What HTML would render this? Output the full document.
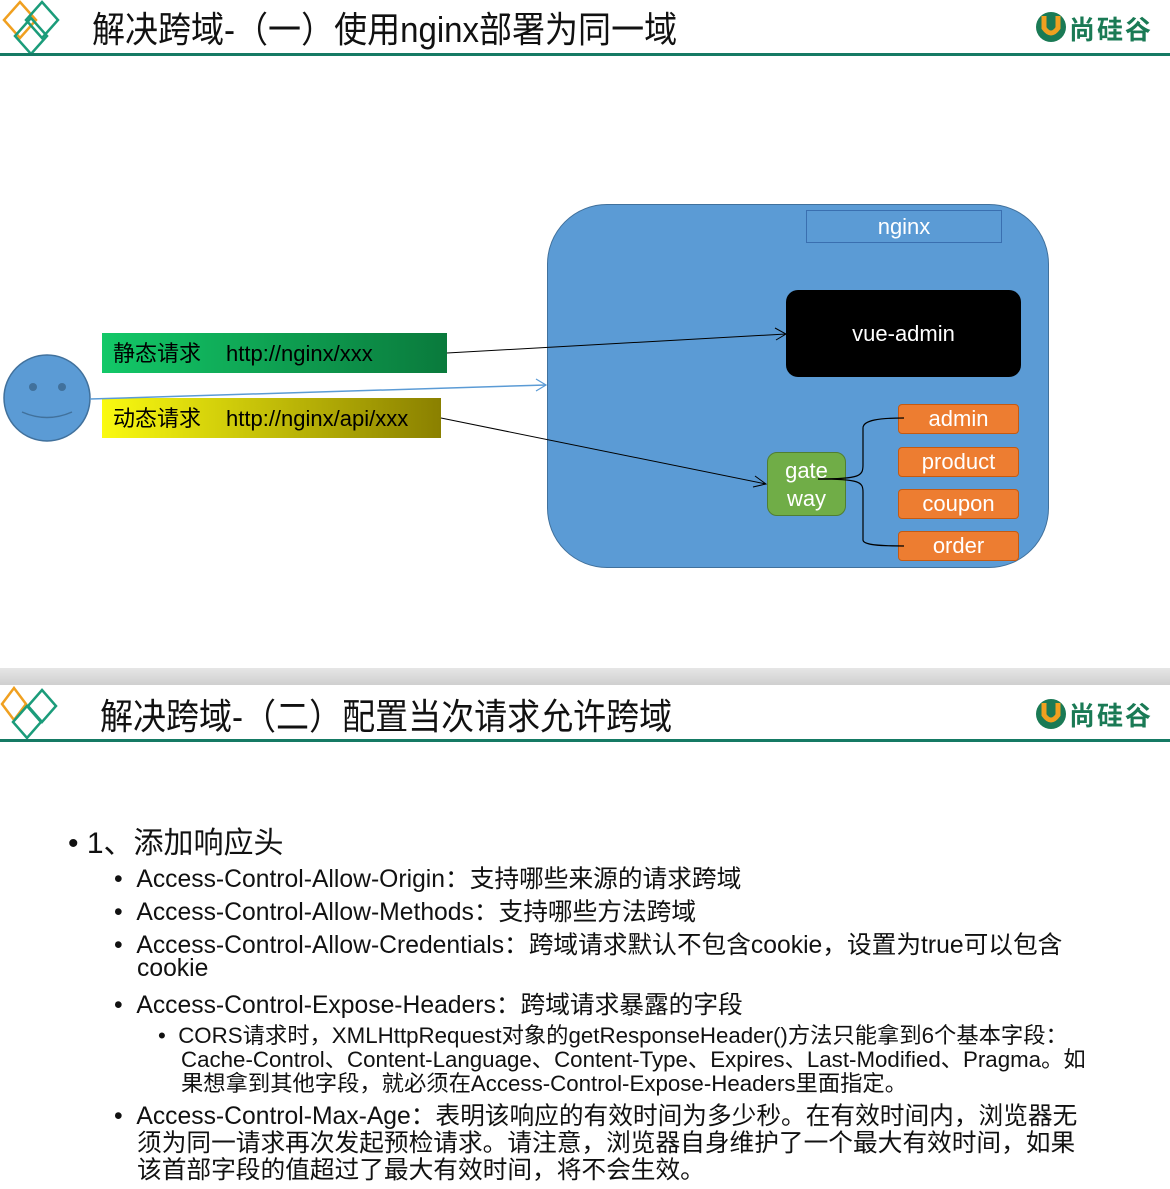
<!DOCTYPE html>
<html><head><meta charset="utf-8"><style>
body{margin:0;width:1170px;height:1189px;background:#fff;position:relative;overflow:hidden;font-family:"Liberation Sans","Noto Sans CJK SC",sans-serif;}
.a{position:absolute;white-space:nowrap;}
.title{font-size:36px;color:#111;transform-origin:0 0;transform:scaleX(0.917);}
.logo{font-size:26px;color:#1a7a55;font-weight:bold;letter-spacing:2px;}
.l2{font-size:24.7px;color:#111;}
.l3{font-size:22.3px;color:#111;line-height:24px;}
</style></head><body>
<!-- header 1 -->
<svg class="a" style="left:0;top:0" width="70" height="56">
<path d="M20 2 L36 20 L20 38 L4 20Z" fill="none" stroke="#f0a020" stroke-width="2.5"/>
<path d="M42 2 L58 20 L42 38 L26 20Z" fill="none" stroke="#1b9c7a" stroke-width="2.5"/>
<path d="M31 18 L47 36 L31 54 L15 36Z" fill="none" stroke="#1b9c7a" stroke-width="2.5"/>
</svg>
<div class="a title" style="left:92px;top:1px">解决跨域-（一）使用nginx部署为同一域</div>
<svg class="a" style="left:1034px;top:10px" width="34" height="34"><circle cx="17" cy="17" r="15" fill="#1a7a55"/><path d="M10 6 V18 Q17 28 24 18 V6" fill="none" stroke="#f0a020" stroke-width="5"/></svg>
<div class="a logo" style="left:1069px;top:10px">尚硅谷</div>
<div class="a" style="left:0;top:53px;width:1170px;height:3px;background:#157a64"></div>

<!-- diagram -->
<div class="a" style="left:547px;top:204px;width:500px;height:362px;background:#5b9bd5;border:1px solid #41719c;border-radius:60px"></div>
<div class="a" style="left:806px;top:210px;width:194px;height:31px;border:1.5px solid #3a6fb0;color:#fff;font-size:22px;text-align:center;line-height:32px">nginx</div>
<div class="a" style="left:786px;top:290px;width:235px;height:87px;background:#000;border-radius:12px;color:#fff;font-size:22px;text-align:center;line-height:87px">vue-admin</div>
<div class="a" style="left:767px;top:452px;width:79px;height:64px;background:#70ad47;border:1.5px solid #507e32;border-radius:10px;color:#fff;font-size:22px;text-align:center;line-height:28px;padding-top:4px;box-sizing:border-box">gate<br>way</div>
<div class="a" style="left:898px;top:404px;width:119px;height:28px;background:#ed7d31;border:1px solid #c55a11;border-radius:4px;color:#fff;font-size:22px;text-align:center;line-height:28px">admin</div>
<div class="a" style="left:898px;top:447px;width:119px;height:28px;background:#ed7d31;border:1px solid #c55a11;border-radius:4px;color:#fff;font-size:22px;text-align:center;line-height:28px">product</div>
<div class="a" style="left:898px;top:489px;width:119px;height:28px;background:#ed7d31;border:1px solid #c55a11;border-radius:4px;color:#fff;font-size:22px;text-align:center;line-height:28px">coupon</div>
<div class="a" style="left:898px;top:531px;width:119px;height:28px;background:#ed7d31;border:1px solid #c55a11;border-radius:4px;color:#fff;font-size:22px;text-align:center;line-height:28px">order</div>

<div class="a" style="left:102px;top:333px;width:345px;height:40px;background:linear-gradient(90deg,#13c868,#0a7a3c);color:#000;font-size:22px;line-height:42px;padding-left:11px;box-sizing:border-box">静态请求<span style="display:inline-block;width:25px"></span>http://nginx/xxx</div>
<div class="a" style="left:102px;top:398px;width:339px;height:40px;background:linear-gradient(90deg,#fafa10,#8a8000);color:#000;font-size:22px;line-height:42px;padding-left:11px;box-sizing:border-box">动态请求<span style="display:inline-block;width:25px"></span>http://nginx/api/xxx</div>

<svg class="a" style="left:0;top:0" width="1170" height="600">
<circle cx="47" cy="398" r="43" fill="#5b9bd5" stroke="#41719c" stroke-width="1.5"/>
<circle cx="33" cy="387" r="4" fill="#41719c"/><circle cx="62" cy="387" r="4" fill="#41719c"/>
<path d="M22 412 Q47 423 72 412" fill="none" stroke="#41719c" stroke-width="1.5"/>
<line x1="90" y1="399" x2="546" y2="385" stroke="#5b9bd5" stroke-width="1.5"/>
<path d="M536 379 L546 385 L536 391" fill="none" stroke="#5b9bd5" stroke-width="1.2"/>
<line x1="447" y1="353" x2="786" y2="334" stroke="#000" stroke-width="1"/>
<path d="M775 328 L786 334 L776 340" fill="none" stroke="#000" stroke-width="1"/>
<line x1="441" y1="418" x2="766" y2="484" stroke="#000" stroke-width="1"/>
<path d="M755 476 L766 484 L753 487" fill="none" stroke="#000" stroke-width="1"/>
<path d="M818 479 C860 479 863 476 863 465 V428 C863 420 880 418 904 418" fill="none" stroke="#000" stroke-width="1.2"/>
<path d="M818 479 C860 479 863 482 863 492 V540 C863 545 880 546 904 546" fill="none" stroke="#000" stroke-width="1.2"/>
</svg>

<!-- separator -->
<div class="a" style="left:0;top:668px;width:1170px;height:17px;background:linear-gradient(#e6e6e6,#cfcfcf)"></div>

<!-- header 2 -->
<svg class="a" style="left:0;top:686px" width="70" height="56">
<path d="M14 2 L26 18 L14 34 L2 18Z" fill="none" stroke="#f0a020" stroke-width="2.5"/>
<path d="M42 4 L56 20 L42 36 L28 20Z" fill="none" stroke="#1b9c7a" stroke-width="2.5"/>
<path d="M27 20 L41 36 L27 52 L13 36Z" fill="none" stroke="#1b9c7a" stroke-width="2.5"/>
</svg>
<div class="a title" style="left:100px;top:688px">解决跨域-（二）配置当次请求允许跨域</div>
<svg class="a" style="left:1034px;top:697px" width="34" height="34"><circle cx="17" cy="17" r="15" fill="#1a7a55"/><path d="M10 6 V18 Q17 28 24 18 V6" fill="none" stroke="#f0a020" stroke-width="5"/></svg>
<div class="a logo" style="left:1069px;top:696px">尚硅谷</div>
<div class="a" style="left:0;top:739px;width:1170px;height:3px;background:#157a64"></div>

<!-- bullets -->
<div class="a" style="left:68px;top:818px;font-size:30px;color:#111">•&nbsp;1、添加响应头</div>
<div class="a l2" style="left:114px;top:859px">•&nbsp;&nbsp;Access-Control-Allow-Origin：支持哪些来源的请求跨域</div>
<div class="a l2" style="left:114px;top:892px">•&nbsp;&nbsp;Access-Control-Allow-Methods：支持哪些方法跨域</div>
<div class="a l2" style="left:114px;top:925px">•&nbsp;&nbsp;Access-Control-Allow-Credentials：跨域请求默认不包含cookie，设置为true可以包含</div>
<div class="a l2" style="left:137px;top:955px">cookie</div>
<div class="a l2" style="left:114px;top:985px">•&nbsp;&nbsp;Access-Control-Expose-Headers：跨域请求暴露的字段</div>
<div class="a l3" style="left:158px;top:1024px">•&nbsp;&nbsp;CORS请求时，XMLHttpRequest对象的getResponseHeader()方法只能拿到6个基本字段：</div>
<div class="a l3" style="left:181px;top:1048px">Cache-Control、Content-Language、Content-Type、Expires、Last-Modified、Pragma。如</div>
<div class="a l3" style="left:181px;top:1072px">果想拿到其他字段，就必须在Access-Control-Expose-Headers里面指定。</div>
<div class="a l2" style="left:114px;top:1096px">•&nbsp;&nbsp;Access-Control-Max-Age：表明该响应的有效时间为多少秒。在有效时间内，浏览器无</div>
<div class="a l2" style="left:137px;top:1123px">须为同一请求再次发起预检请求。请注意，浏览器自身维护了一个最大有效时间，如果</div>
<div class="a l2" style="left:137px;top:1150px">该首部字段的值超过了最大有效时间，将不会生效。</div>
</body></html>
